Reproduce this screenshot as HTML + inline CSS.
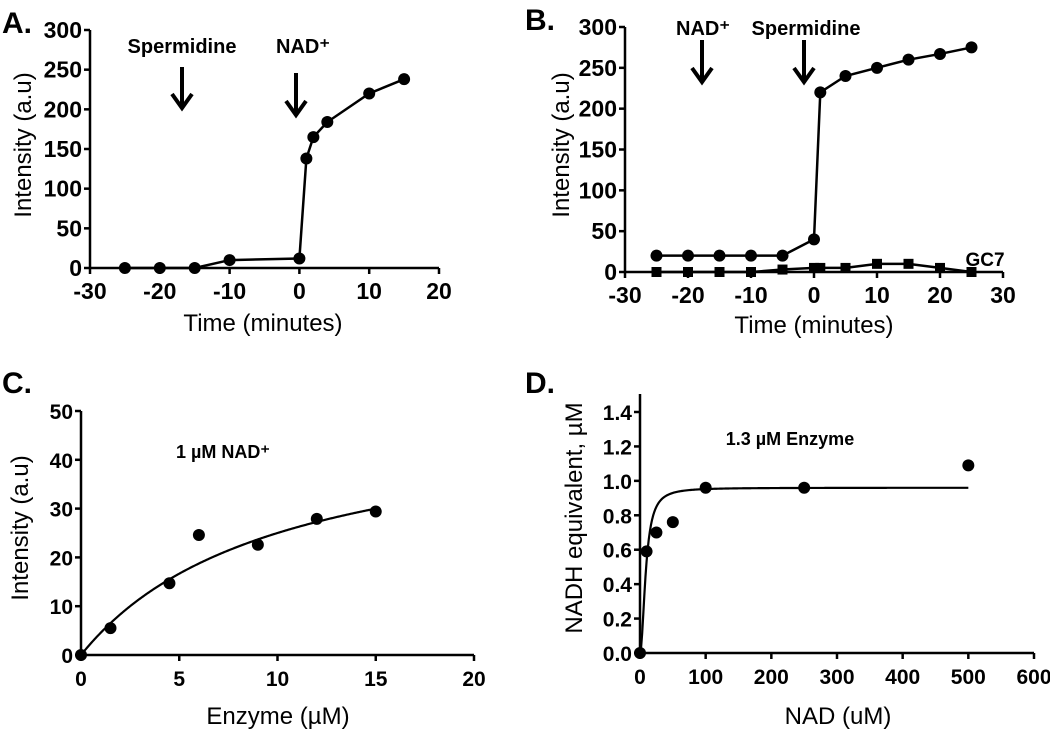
<!DOCTYPE html>
<html><head><meta charset="utf-8"><style>
html,body{margin:0;padding:0;background:#fff;}
svg{display:block;font-family:"Liberation Sans",Arial,sans-serif;}
</style></head><body>
<svg id="fig" width="1050" height="733" viewBox="0 0 1050 733" xmlns="http://www.w3.org/2000/svg"></svg>
<script>
// Panel A data
const aTime=[-25,-20,-15,-10,0,1,2,4,10,15];
const aIntensity=[0,0,0,10,12,138,165,184,220,238];
const aXTicks=[-30,-20,-10,0,10,20];
const aYTicks=[0,50,100,150,200,250,300];
// Panel B data
const bTime=[-25,-20,-15,-10,-5,0,1,5,10,15,20,25];
const bIntensity=[20,20,20,20,20,40,220,240,250,260,267,275];
const bGC7=[0,0,0,0,3,5,5,5,10,10,5,0];
const bXTicks=[-30,-20,-10,0,10,20,30];
const bYTicks=[0,50,100,150,200,250,300];
// Panel C data
const cEnzyme=[0,1.5,4.5,6,9,12,15];
const cIntensity=[0,5.5,14.7,24.6,22.6,27.9,29.4];
const cXTicks=[0,5,10,15,20];
const cYTicks=[0,10,20,30,40,50];
// Panel D data
const dNAD=[0,10,25,50,100,250,500];
const dNADH=[0,0.59,0.70,0.76,0.96,0.96,1.09];
const dXTicks=[0,100,200,300,400,500,600];
const dYTicks=[0,0.2,0.4,0.6,0.8,1.0,1.2,1.4];

const svg=document.getElementById('fig');
const NS='http://www.w3.org/2000/svg';
function mk(tag,attrs,parent){const e=document.createElementNS(NS,tag);for(const k in attrs)e.setAttribute(k,attrs[k]);(parent||svg).appendChild(e);return e;}
function txt(s,x,y,size,weight,anchor,parent,rot){const t=mk('text',{x:x,y:y,'font-size':size,'font-weight':weight,'text-anchor':anchor,fill:'#000'},parent);if(rot)t.setAttribute('transform',`rotate(-90 ${x} ${y})`);t.textContent=s;return t;}

function axes(p){
  const g=mk('g',{});
  
  
  const sx=v=>p.x0+(v-p.xmin)/(p.xmax-p.xmin)*(p.x1-p.x0);
  const sy=v=>p.y0-(v-p.ymin)/(p.ymax-p.ymin)*(p.y0-p.y1);
  mk('line',{x1:p.x0,y1:p.y0,x2:p.x1,y2:p.y0,stroke:'#000','stroke-width':2.5},g);
  mk('line',{x1:p.x0,y1:p.y0,x2:p.x0,y2:p.ytop||p.y1,stroke:'#000','stroke-width':2.5},g);
  p.xt.forEach(v=>{const x=sx(v);mk('line',{x1:x,y1:p.y0,x2:x,y2:p.y0+6,stroke:'#000','stroke-width':2.5},g);
    const t=txt(String(v),x,p.y0+31,p.fs,'bold','middle',g);});
  p.yt.forEach(v=>{const y=sy(v);mk('line',{x1:p.x0-6,y1:y,x2:p.x0,y2:y,stroke:'#000','stroke-width':2.5},g);
    const t=txt(p.yfmt?p.yfmt(v):String(v),p.x0-8,y+8,p.fs,'bold','end',g);});
  return {sx,sy};
}
function series(xs,ys,s,name,marker,line){
  const g=mk('g',{});
  
  
  if(line){mk('polyline',{points:xs.map((v,i)=>s.sx(v)+','+s.sy(ys[i])).join(' '),fill:'none',stroke:'#000','stroke-width':2.5},g);}
  xs.forEach((v,i)=>{
    let m;
    if(marker==='sq')m=mk('rect',{x:s.sx(v)-5,y:s.sy(ys[i])-5,width:10,height:10,fill:'#000'},g);
    else m=mk('circle',{cx:s.sx(v),cy:s.sy(ys[i]),r:6,fill:'#000'},g);
    
    
  });
}
function curve(f,xa,xb,s,name){
  const pts=[];for(let i=0;i<=300;i++){const x=xa+(xb-xa)*i/300;pts.push(s.sx(x)+','+s.sy(f(x)));}
  const p=mk('polyline',{points:pts.join(' '),fill:'none',stroke:'#000','stroke-width':2.2});
  
  
}
function arrow(x,y1,y2,name){
  const g=mk('g',{});
  
  
  mk('line',{x1:x,y1:y1,x2:x,y2:y2-3,stroke:'#000','stroke-width':4},g);
  mk('polyline',{points:`${x-10},${y2-14} ${x},${y2} ${x+10},${y2-14}`,fill:'none',stroke:'#000','stroke-width':4},g);
}
function label(s,x,y,size,weight,anchor,name,rot){const t=txt(s,x,y,size,weight,anchor,null,rot);return t;}

// Panel A
let A=axes({name:'panel-a',x0:90,x1:439,y0:268,y1:30,xmin:-30,xmax:20,ymin:0,ymax:300,xt:aXTicks,yt:aYTicks,fs:23});
series(aTime,aIntensity,A,'panel-a-series','c',true);
label('A.',2,33,30,'bold','start','panel-a-label');
label('Intensity (a.u)',31,145,24,'normal','middle','panel-a-y-title',true);
label('Time (minutes)',263,331,24,'normal','middle','panel-a-x-title');
label('Spermidine',182,53,20,'bold','middle','panel-a-spermidine-label');
label('NAD⁺',303,53,20,'bold','middle','panel-a-nad-label');
arrow(182,67,108,'panel-a-spermidine-arrow');
arrow(296,73,115,'panel-a-nad-arrow');

// Panel B
let B=axes({name:'panel-b',x0:625,x1:1003,y0:272,y1:27,xmin:-30,xmax:30,ymin:0,ymax:300,xt:bXTicks,yt:bYTicks,fs:23});
series(bTime,bGC7,B,'panel-b-gc7-series','sq',true);
series(bTime,bIntensity,B,'panel-b-series','c',true);
label('B.',525,30,30,'bold','start','panel-b-label');
label('Intensity (a.u)',569,145,24,'normal','middle','panel-b-y-title',true);
label('GC7',985,266,19,'bold','middle','panel-b-gc7-label');
label('Time (minutes)',814,333,24,'normal','middle','panel-b-x-title');
label('NAD⁺',703,35,20,'bold','middle','panel-b-nad-label');
label('Spermidine',806,35,20,'bold','middle','panel-b-spermidine-label');
arrow(702,40,82,'panel-b-nad-arrow');
arrow(804,40,82,'panel-b-spermidine-arrow');

// Panel C
let C=axes({name:'panel-c',x0:81,x1:474,y0:655,y1:411,xmin:0,xmax:20,ymin:0,ymax:50,xt:cXTicks,yt:cYTicks,fs:21});
curve(x=>50*x/(10+x),0,15,C,'panel-c-fit-curve');
series(cEnzyme,cIntensity,C,'panel-c-series','c',false);
label('C.',2,393,30,'bold','start','panel-c-label');
label('Intensity (a.u)',28,528,24,'normal','middle','panel-c-y-title',true);
label('1 µM NAD⁺',223,458,18,'bold','middle','panel-c-annotation');
label('Enzyme (µM)',278,724,24,'normal','middle','panel-c-x-title');

// Panel D
let D=axes({name:'panel-d',x0:640,x1:1034,y0:653,y1:412,ytop:394,xmin:0,xmax:600,ymin:0,ymax:1.4,xt:dXTicks,yt:dYTicks,fs:21,yfmt:v=>v.toFixed(1)});
curve(x=>0.96*x*x/(81+x*x),0,500,D,'panel-d-fit-curve');
series(dNAD,dNADH,D,'panel-d-series','c',false);
label('D.',525,393,30,'bold','start','panel-d-label');
label('NADH equivalent, µM',582,518,24,'normal','middle','panel-d-y-title',true);
label('1.3 µM Enzyme',790,445,18,'bold','middle','panel-d-annotation');
label('NAD (uM)',838,724,24,'normal','middle','panel-d-x-title');
</script>
</body></html>
